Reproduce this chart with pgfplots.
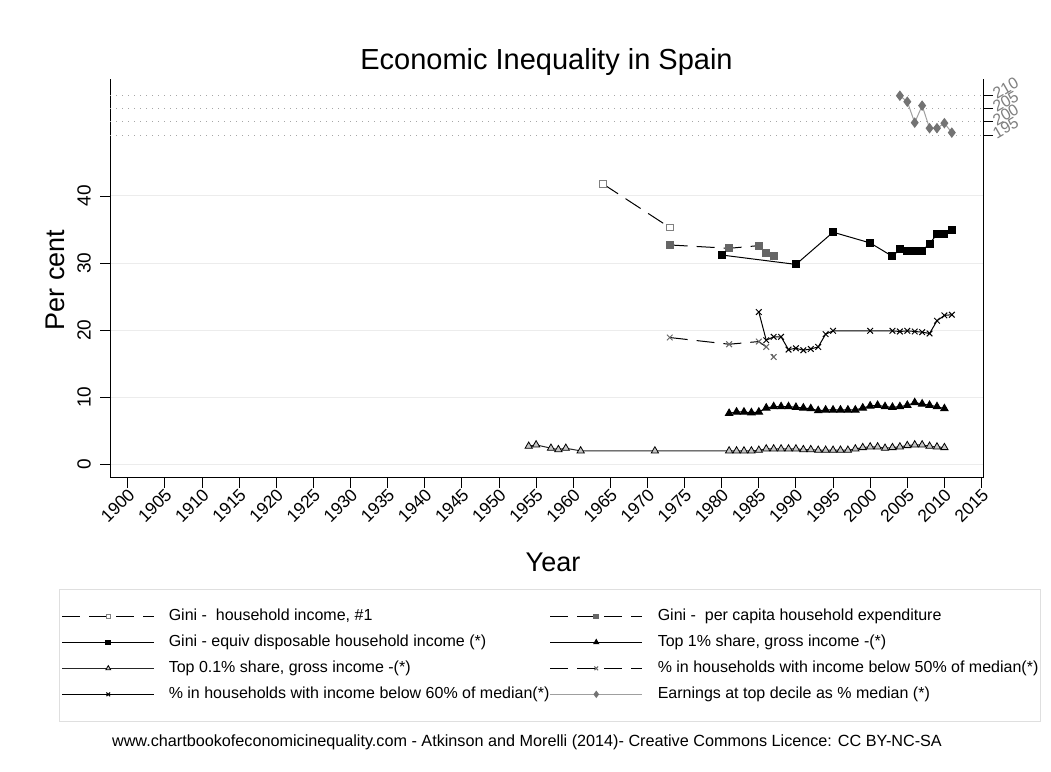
\documentclass[border=0pt]{standalone}
\usepackage{fontspec}
\setmainfont{Liberation Sans}
\usepackage{pgfplots}
\pgfplotsset{compat=1.18}
\pgfplotsset{
 s1/.style={black, line width=1pt, dash pattern=on 18pt off 9pt, mark=square*, mark size=3.3pt, mark options={solid, fill=white, draw=gray, line width=1pt}},
 s2/.style={black, line width=1pt, dash pattern=on 18pt off 9pt, mark=square*, mark size=3.5pt, mark options={solid, fill=black!60, draw=black!60}},
 s3/.style={black, line width=1pt, mark=square*, mark size=3.5pt, mark options={solid, fill=black}},
 s4/.style={black, line width=1pt, mark=triangle*, mark size=4.2pt, mark options={solid, fill=black}},
 s5/.style={black!85, line width=1pt, mark=triangle*, mark size=4.2pt, mark options={solid, fill=gray!45, draw=black, line width=0.8pt}},
 s6/.style={black, line width=1pt, dash pattern=on 18pt off 9pt, mark=x, mark size=4pt, mark options={solid, draw=black!60, line width=1pt}},
 s7/.style={black, line width=1pt, mark=x, mark size=4pt, mark options={solid, draw=black, line width=1pt}},
 s8/.style={gray!75, line width=1pt, mark=diamond*, mark size=4.5pt, mark options={solid, fill=black!55, draw=black!55}},
}
\begin{document}
\begin{tikzpicture}[x=1pt,y=1pt]
\path[use as bounding box, fill=white] (0,0) rectangle (1051,771);
\begin{axis}[
 at={(110pt,293pt)}, anchor=south west, scale only axis, width=873pt, height=399pt,
 xmin=1897.6, xmax=2015.2, ymin=-2.04, ymax=57.44,
 axis x line*=bottom, axis y line*=left, axis line style={-, line width=1pt, black},
 xtick={1900,1905,...,2015}, ytick={0,10,20,30,40},
 tick align=outside, major tick length=10pt, tick style={black, line width=0.9pt},
 /pgf/number format/assume math mode=true, /pgf/number format/1000 sep={},
 xticklabel style={rotate=45, anchor=north east, font=\fontsize{17.5}{17.5}\selectfont, inner sep=0pt, yshift=1pt},
 yticklabel style={xshift=-7pt, rotate=90, anchor=south, font=\fontsize{19}{19}\selectfont, inner sep=2pt},
 ymajorgrids, major grid style={gray!15, line width=1pt},
 clip=false,
]
\addplot[s1] coordinates {(1964,41.8) (1973,35.3)};
\addplot[s2] coordinates {(1973,32.7) (1981,32.2) (1985,32.6) (1986,31.5) (1987,31.0)};
\addplot[s3] coordinates {(1980,31.2) (1990,29.8) (1995,34.6) (2000,33.0) (2003,31.0) (2004,32.1) (2005,31.8) (2006,31.8) (2007,31.8) (2008,32.9) (2009,34.3) (2010,34.4) (2011,34.9)};
\addplot[s4] coordinates {(1981,7.6) (1982,7.8) (1983,7.8) (1984,7.7) (1985,7.8) (1986,8.4) (1987,8.6) (1988,8.6) (1989,8.6) (1990,8.5) (1991,8.4) (1992,8.3) (1993,8.0) (1994,8.1) (1995,8.1) (1996,8.1) (1997,8.1) (1998,8.1) (1999,8.4) (2000,8.7) (2001,8.8) (2002,8.6) (2003,8.5) (2004,8.6) (2005,8.8) (2006,9.2) (2007,9.0) (2008,8.8) (2009,8.6) (2010,8.3)};
\addplot[s5] coordinates {(1954,2.7) (1955,2.9) (1957,2.4) (1958,2.2) (1959,2.4) (1961,2.0) (1971,2.0) (1981,2.0) (1982,2.0) (1983,2.0) (1984,2.0) (1985,2.1) (1986,2.3) (1987,2.3) (1988,2.3) (1989,2.3) (1990,2.3) (1991,2.2) (1992,2.2) (1993,2.1) (1994,2.1) (1995,2.1) (1996,2.1) (1997,2.1) (1998,2.3) (1999,2.5) (2000,2.6) (2001,2.6) (2002,2.4) (2003,2.5) (2004,2.6) (2005,2.8) (2006,2.9) (2007,2.9) (2008,2.7) (2009,2.6) (2010,2.5)};
\addplot[s6] coordinates {(1973,18.9) (1981,17.9) (1985,18.3) (1986,17.5) (1987,16.0)};
\addplot[s7] coordinates {(1985,22.7) (1986,18.5) (1987,19.0) (1988,19.0) (1989,17.1) (1990,17.3) (1991,17.0) (1992,17.2) (1993,17.5) (1994,19.4) (1995,19.9) (2000,19.9) (2003,19.9) (2004,19.8) (2005,19.9) (2006,19.8) (2007,19.7) (2008,19.5) (2009,21.4) (2010,22.2) (2011,22.3)};
\end{axis}
\begin{axis}[
 at={(110pt,293pt)}, anchor=south west, scale only axis, width=873pt, height=399pt,
 xmin=1897.6, xmax=2015.2, ymin=64.08, ymax=216.37,
 axis x line=none, axis y line*=right, axis line style={-, line width=1pt, black},
 ytick={195,200,205,210},
 tick align=outside, major tick length=10pt, tick style={black, line width=0.9pt},
 /pgf/number format/assume math mode=true,
 yticklabel style={rotate=30, anchor=west, text=gray, font=\fontsize{16}{16}\selectfont, inner sep=1pt},
 ymajorgrids, major grid style={gray!70, line width=0.9pt, dash pattern=on 1pt off 5pt},
 clip=false,
 legend columns=2,
 legend cell align=left,
 legend style={at={(axis description cs:-0.058,-0.278)}, anchor=north west, draw=gray!25, line width=0.8pt,
   inner xsep=2pt, inner ysep=19pt, row sep=10pt, column sep=0pt,
   font=\fontsize{16}{16}\selectfont,
   nodes={inner xsep=0pt, inner ysep=0pt, text height=12pt, text depth=4pt, anchor=west}},
 legend image code/.code={\draw[mark repeat=2, mark phase=2, #1, every mark/.append style={scale=0.65}] plot coordinates {(0pt,0pt) (46pt,0pt) (92pt,0pt)};},
]
\addlegendimage{s1}\addlegendentry{\hspace*{14pt}\makebox[381pt][l]{Gini -\ \ household income, \#1}}
\addlegendimage{s2}\addlegendentry{\hspace*{15pt}Gini -\ \ per capita household expenditure}
\addlegendimage{s3}\addlegendentry{\hspace*{14pt}\makebox[381pt][l]{Gini - equiv disposable household income (*)}}
\addlegendimage{s4}\addlegendentry{\hspace*{15pt}Top 1\% share, gross income -(*)}
\addlegendimage{s5}\addlegendentry{\hspace*{14pt}\makebox[381pt][l]{Top 0.1\% share, gross income -(*)}}
\addlegendimage{s6}\addlegendentry{\hspace*{15pt}\% in households with income below 50\% of median(*)}
\addlegendimage{s7}\addlegendentry{\hspace*{14pt}\makebox[381pt][l]{\% in households with income below 60\% of median(*)}}
\addplot[s8] coordinates {(2004,210) (2005,207.7) (2006,199.7) (2007,206.2) (2008,197.6) (2009,197.6) (2010,199.5) (2011,195.9)};
\addlegendentry{\hspace*{15pt}Earnings at top decile as \% median (*)}
\end{axis}
\node[font=\fontsize{29}{29}\selectfont] at (546.5,709) {Economic Inequality in Spain};
\node[font=\fontsize{27}{27}\selectfont] at (553,209) {Year};
\node[font=\fontsize{27}{27}\selectfont, rotate=90] at (55,491) {Per cent};
\node[font=\fontsize{16.2}{16.2}\selectfont] at (527,29) {www.chartbookofeconomicinequality.com - Atkinson and Morelli (2014)- Creative Commons Licence: CC BY-NC-SA};
\end{tikzpicture}
\end{document}
